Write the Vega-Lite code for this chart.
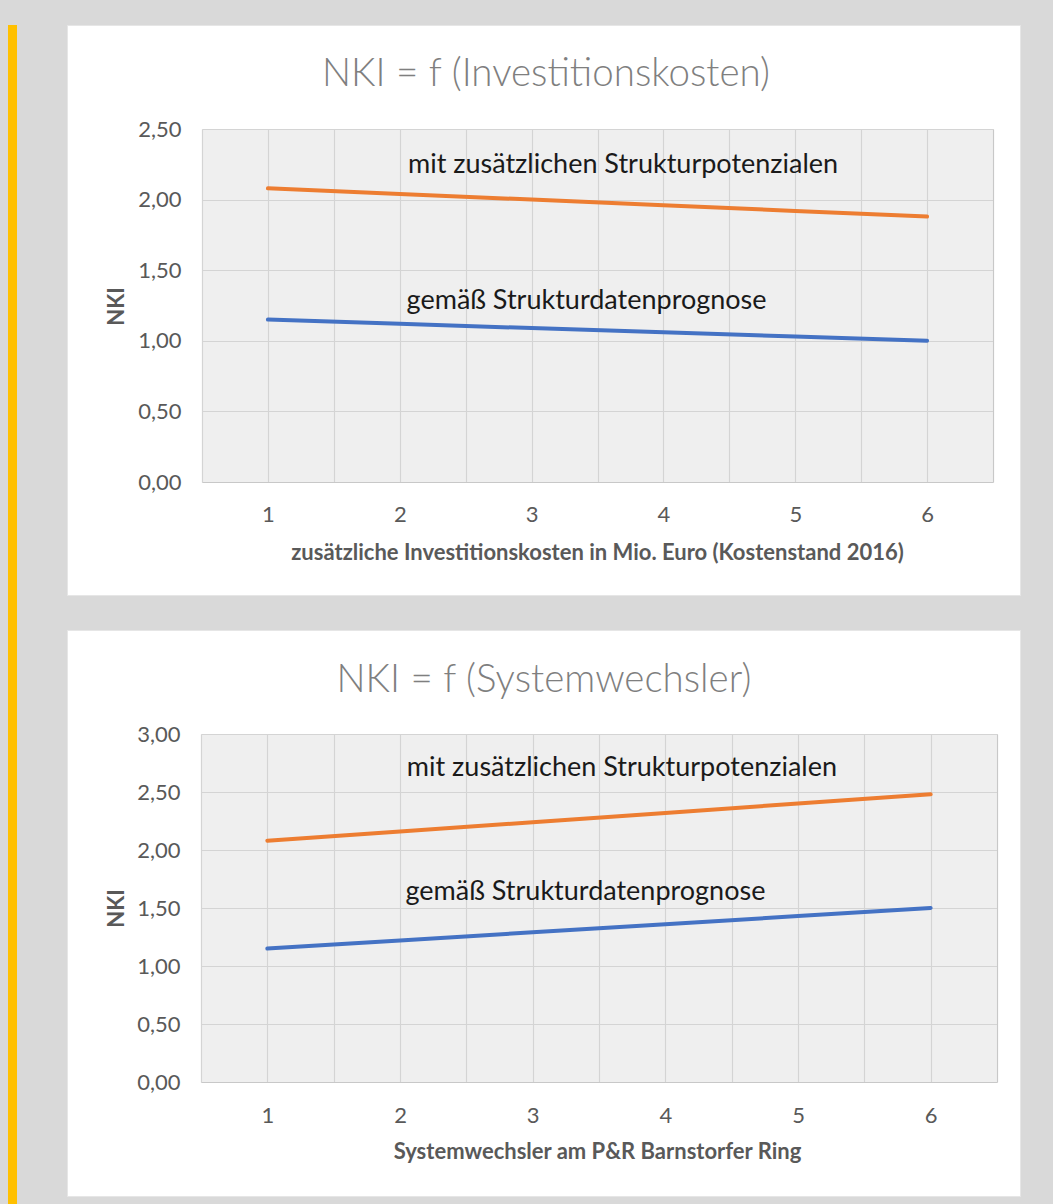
{
  "$schema": "https://vega.github.io/schema/vega-lite/v6.json",
  "background": "#d9d9d9",
  "padding": {"left": 8, "top": 24, "right": 34, "bottom": 0},
  "autosize": {"type": "pad"},
  "config": {
    "font": "Lato",
    "view": {"stroke": null},
    "axis": {
      "labelColor": "#595959",
      "titleColor": "#595959",
      "labelFontSize": 22,
      "titleFontSize": 22,
      "titleFontWeight": "bold",
      "domain": false,
      "ticks": false,
      "tickSize": 0,
      "grid": true,
      "gridColor": "#c8c8c8",
      "gridWidth": 1.2,
      "labelFlush": false,
      "labelOverlap": false
    },
    "text": {"font": "Lato"}
  },
  "datasets": {
    "topLines": [
      {"x": 1, "nki": 2.08, "serie": "mit zusätzlichen Strukturpotenzialen"},
      {"x": 2, "nki": 2.04, "serie": "mit zusätzlichen Strukturpotenzialen"},
      {"x": 3, "nki": 2.00, "serie": "mit zusätzlichen Strukturpotenzialen"},
      {"x": 4, "nki": 1.96, "serie": "mit zusätzlichen Strukturpotenzialen"},
      {"x": 5, "nki": 1.92, "serie": "mit zusätzlichen Strukturpotenzialen"},
      {"x": 6, "nki": 1.88, "serie": "mit zusätzlichen Strukturpotenzialen"},
      {"x": 1, "nki": 1.15, "serie": "gemäß Strukturdatenprognose"},
      {"x": 2, "nki": 1.12, "serie": "gemäß Strukturdatenprognose"},
      {"x": 3, "nki": 1.09, "serie": "gemäß Strukturdatenprognose"},
      {"x": 4, "nki": 1.06, "serie": "gemäß Strukturdatenprognose"},
      {"x": 5, "nki": 1.03, "serie": "gemäß Strukturdatenprognose"},
      {"x": 6, "nki": 1.00, "serie": "gemäß Strukturdatenprognose"}
    ],
    "bottomLines": [
      {"x": 1, "nki": 2.08, "serie": "mit zusätzlichen Strukturpotenzialen"},
      {"x": 2, "nki": 2.16, "serie": "mit zusätzlichen Strukturpotenzialen"},
      {"x": 3, "nki": 2.24, "serie": "mit zusätzlichen Strukturpotenzialen"},
      {"x": 4, "nki": 2.32, "serie": "mit zusätzlichen Strukturpotenzialen"},
      {"x": 5, "nki": 2.40, "serie": "mit zusätzlichen Strukturpotenzialen"},
      {"x": 6, "nki": 2.48, "serie": "mit zusätzlichen Strukturpotenzialen"},
      {"x": 1, "nki": 1.15, "serie": "gemäß Strukturdatenprognose"},
      {"x": 2, "nki": 1.22, "serie": "gemäß Strukturdatenprognose"},
      {"x": 3, "nki": 1.29, "serie": "gemäß Strukturdatenprognose"},
      {"x": 4, "nki": 1.36, "serie": "gemäß Strukturdatenprognose"},
      {"x": 5, "nki": 1.43, "serie": "gemäß Strukturdatenprognose"},
      {"x": 6, "nki": 1.50, "serie": "gemäß Strukturdatenprognose"}
    ]
  },
  "spacing": 49,
  "hconcat": [
    {
      "width": 9,
      "height": 1180,
      "data": {"values": [{"rand": "links"}]},
      "mark": {"type": "rect", "color": "#ffc000"}
    },
    {
      "spacing": 33,
      "vconcat": [
        {
          "width": 953,
          "height": 570,
          "view": {"fill": "white", "stroke": "#e6e6e6"},
          "layer": [
            {
              "data": {"values": [{"flaeche": "Diagrammfläche"}]},
              "mark": {"type": "rect", "fill": "#e0e0e0", "fillOpacity": 0.5},
              "encoding": {
                "x": {"datum": 0.5, "type": "quantitative"},
                "x2": {"datum": 6.5},
                "y": {"datum": 0, "type": "quantitative"},
                "y2": {"datum": 2.5}
              }
            },
            {
              "data": {"name": "topLines"},
              "mark": {"type": "line", "strokeWidth": 4, "strokeCap": "round"},
              "encoding": {
                "x": {
                  "field": "x", "type": "quantitative",
                  "scale": {"domain": [0.5, 6.5], "range": [135, 926], "nice": false, "zero": false},
                  "axis": {
                    "orient": "top",
                    "values": [0.5, 1, 1.5, 2, 2.5, 3, 3.5, 4, 4.5, 5, 5.5, 6, 6.5],
                    "labelExpr": "datum.value % 1 === 0 ? format(datum.value, 'd') : ''",
                    "offset": -489,
                    "ticks": false,
                    "tickSize": 0,
                    "domain": false,
                    "labelPadding": 0,
                    "labelBaseline": "middle",
                    "title": "zusätzliche Investitionskosten in Mio. Euro (Kostenstand 2016)",
                    "titleX": 530,
                    "titleY": 38,
                    "titleAlign": "center",
                    "titleBaseline": "middle"
                  }
                },
                "y": {
                  "field": "nki", "type": "quantitative",
                  "scale": {"domain": [0, 2.5], "range": [457, 104], "nice": false, "zero": false},
                  "axis": {
                    "values": [0, 0.5, 1, 1.5, 2, 2.5],
                    "labelExpr": "replace(format(datum.value, '.2f'), '.', ',')",
                    "offset": -135,
                    "ticks": false,
                    "tickSize": 0,
                    "domain": false,
                    "labelPadding": 21,
                    "title": "NKI",
                    "titleX": -86,
                    "titleY": 281,
                    "titleAngle": 270,
                    "titleAlign": "center",
                    "titleBaseline": "middle"
                  }
                },
                "color": {
                  "field": "serie", "type": "nominal",
                  "scale": {"domain": ["mit zusätzlichen Strukturpotenzialen", "gemäß Strukturdatenprognose"], "range": ["#ed7d31", "#4472c4"]},
                  "legend": null
                }
              }
            },
            {
              "data": {"values": [{"t": "NKI = f (Investitionskosten)"}]},
              "mark": {"type": "text", "fontSize": 38.5, "fontWeight": 300, "color": "#7f7f7f", "align": "center", "baseline": "middle"},
              "encoding": {
                "x": {"datum": 3.109, "type": "quantitative"},
                "y": {"datum": 2.889, "type": "quantitative"},
                "text": {"field": "t"}
              }
            },
            {
              "data": {"values": [{"t": "mit zusätzlichen Strukturpotenzialen"}]},
              "mark": {"type": "text", "fontSize": 27, "color": "#1a1a1a", "align": "center", "baseline": "middle"},
              "encoding": {
                "x": {"datum": 3.694, "type": "quantitative"},
                "y": {"datum": 2.245, "type": "quantitative"},
                "text": {"field": "t"}
              }
            },
            {
              "data": {"values": [{"t": "gemäß Strukturdatenprognose"}]},
              "mark": {"type": "text", "fontSize": 27, "color": "#1a1a1a", "align": "center", "baseline": "middle"},
              "encoding": {
                "x": {"datum": 3.417, "type": "quantitative"},
                "y": {"datum": 1.282, "type": "quantitative"},
                "text": {"field": "t"}
              }
            }
          ]
        },
        {
          "width": 953,
          "height": 566,
          "view": {"fill": "white", "stroke": "#e6e6e6"},
          "layer": [
            {
              "data": {"values": [{"flaeche": "Diagrammfläche"}]},
              "mark": {"type": "rect", "fill": "#e0e0e0", "fillOpacity": 0.5},
              "encoding": {
                "x": {"datum": 0.5, "type": "quantitative"},
                "x2": {"datum": 6.5},
                "y": {"datum": 0, "type": "quantitative"},
                "y2": {"datum": 3}
              }
            },
            {
              "data": {"name": "bottomLines"},
              "mark": {"type": "line", "strokeWidth": 4, "strokeCap": "round"},
              "encoding": {
                "x": {
                  "field": "x", "type": "quantitative",
                  "scale": {"domain": [0.5, 6.5], "range": [134, 930], "nice": false, "zero": false},
                  "axis": {
                    "orient": "top",
                    "values": [0.5, 1, 1.5, 2, 2.5, 3, 3.5, 4, 4.5, 5, 5.5, 6, 6.5],
                    "labelExpr": "datum.value % 1 === 0 ? format(datum.value, 'd') : ''",
                    "offset": -485,
                    "ticks": false,
                    "tickSize": 0,
                    "domain": false,
                    "labelPadding": 0,
                    "labelBaseline": "middle",
                    "title": "Systemwechsler am P&R Barnstorfer Ring",
                    "titleX": 530,
                    "titleY": 36,
                    "titleAlign": "center",
                    "titleBaseline": "middle"
                  }
                },
                "y": {
                  "field": "nki", "type": "quantitative",
                  "scale": {"domain": [0, 3], "range": [452, 104], "nice": false, "zero": false},
                  "axis": {
                    "values": [0, 0.5, 1, 1.5, 2, 2.5, 3],
                    "labelExpr": "replace(format(datum.value, '.2f'), '.', ',')",
                    "offset": -134,
                    "ticks": false,
                    "tickSize": 0,
                    "domain": false,
                    "labelPadding": 21,
                    "title": "NKI",
                    "titleX": -85,
                    "titleY": 278,
                    "titleAngle": 270,
                    "titleAlign": "center",
                    "titleBaseline": "middle"
                  }
                },
                "color": {
                  "field": "serie", "type": "nominal",
                  "scale": {"domain": ["mit zusätzlichen Strukturpotenzialen", "gemäß Strukturdatenprognose"], "range": ["#ed7d31", "#4472c4"]},
                  "legend": null
                }
              }
            },
            {
              "data": {"values": [{"t": "NKI = f (Systemwechsler)"}]},
              "mark": {"type": "text", "fontSize": 38.5, "fontWeight": 300, "color": "#7f7f7f", "align": "center", "baseline": "middle"},
              "encoding": {
                "x": {"datum": 3.085, "type": "quantitative"},
                "y": {"datum": 3.466, "type": "quantitative"},
                "text": {"field": "t"}
              }
            },
            {
              "data": {"values": [{"t": "mit zusätzlichen Strukturpotenzialen"}]},
              "mark": {"type": "text", "fontSize": 27, "color": "#1a1a1a", "align": "center", "baseline": "middle"},
              "encoding": {
                "x": {"datum": 3.673, "type": "quantitative"},
                "y": {"datum": 2.707, "type": "quantitative"},
                "text": {"field": "t"}
              }
            },
            {
              "data": {"values": [{"t": "gemäß Strukturdatenprognose"}]},
              "mark": {"type": "text", "fontSize": 27, "color": "#1a1a1a", "align": "center", "baseline": "middle"},
              "encoding": {
                "x": {"datum": 3.398, "type": "quantitative"},
                "y": {"datum": 1.638, "type": "quantitative"},
                "text": {"field": "t"}
              }
            }
          ]
        }
      ]
    }
  ]
}
